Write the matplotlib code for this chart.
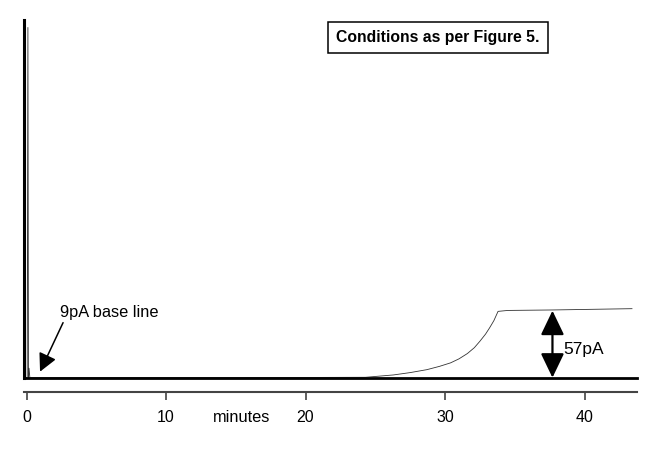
import matplotlib
matplotlib.use("Agg")
import matplotlib.pyplot as plt
from matplotlib.patches import ArrowStyle

plt.rcParams['font.family'] = ['Liberation Sans', 'DejaVu Sans']

# detector trace: time (min) vs current (pA)
time_min = [0.0, 0.05, 0.10, 0.14, 0.18, 0.24, 5.0, 15.0, 24.3, 26.3, 27.5,
            28.7, 29.6, 30.4, 31.0, 31.6, 32.1, 32.5, 32.9, 33.2, 33.5, 33.8, 34.5, 37.7, 43.4]
current_pa = [9, 9, 307, 9, 17, 9, 9, 9, 9.3, 11.3, 13.3,
              15.8, 18.6, 21.6, 25.0, 29.5, 34.5, 40.0, 46.0, 51.5, 57.5, 65.4, 66.2, 66.6, 67.7]

baseline_pa = 9
step_pa = 57
step_time = 37.7
xticks = [0, 10, 20, 30, 40]

fig = plt.figure(figsize=(6.5, 4.54), dpi=100)
ax = fig.add_axes([24 / 650, 1 - 378 / 454, 613 / 650, 358 / 454])

ax.plot(time_min, current_pa, color='#333333', lw=0.6, zorder=2)

ax.set_xlim(-0.18, 43.76)
ax.set_ylim(baseline_pa - 0.3, baseline_pa - 0.3 + 358 / 1.175)

for side in ('top', 'right'):
    ax.spines[side].set_visible(False)
ax.spines['left'].set_linewidth(2.2)
ax.spines['bottom'].set_linewidth(2.0)
ax.spines['bottom'].set_zorder(3)
ax.set_xticks([])
ax.set_yticks([])

# separate time axis underneath the trace
sec = ax.secondary_xaxis(-(391.5 - 378) / 358)
sec.set_xticks(xticks)
sec.spines['bottom'].set_color('#444444')
sec.spines['bottom'].set_linewidth(1.5)
sec.tick_params(direction='out', length=6, width=1.1, color='#333333', pad=7)
plt.setp(sec.get_xticklabels(), fontsize=11.5)
ax.text(15.4, -(417 - 378) / 358, 'minutes', transform=ax.get_xaxis_transform(),
        ha='center', va='center', fontsize=11.8)

# base line label
ax.annotate('', xy=(0.97, 14.1), xytext=(2.62, 55.8),
            arrowprops=dict(arrowstyle=ArrowStyle('-|>', head_length=0.55, head_width=0.28),
                            mutation_scale=20, color='black', lw=1.1,
                            shrinkA=0, shrinkB=0))
ax.text(2.4, 64.3, '9pA base line', ha='left', va='center', fontsize=11.8)

# step height
ax.annotate('', xy=(step_time, baseline_pa + step_pa), xytext=(step_time, baseline_pa),
            arrowprops=dict(arrowstyle=ArrowStyle('<|-|>', head_length=0.75, head_width=0.36),
                            mutation_scale=20, color='black', lw=1.6,
                            shrinkA=0, shrinkB=0))
ax.text(38.5, 32.8, f'{step_pa}pA', ha='left', va='center', fontsize=12.5)

fig.text(438 / 650, 1 - 37.5 / 454, 'Conditions as per Figure 5.', ha='center', va='center',
         fontsize=11.3, fontweight='bold',
         bbox=dict(boxstyle='square,pad=0.5', facecolor='white', edgecolor='black', lw=1.1))

fig.savefig('out.png', dpi=100)
